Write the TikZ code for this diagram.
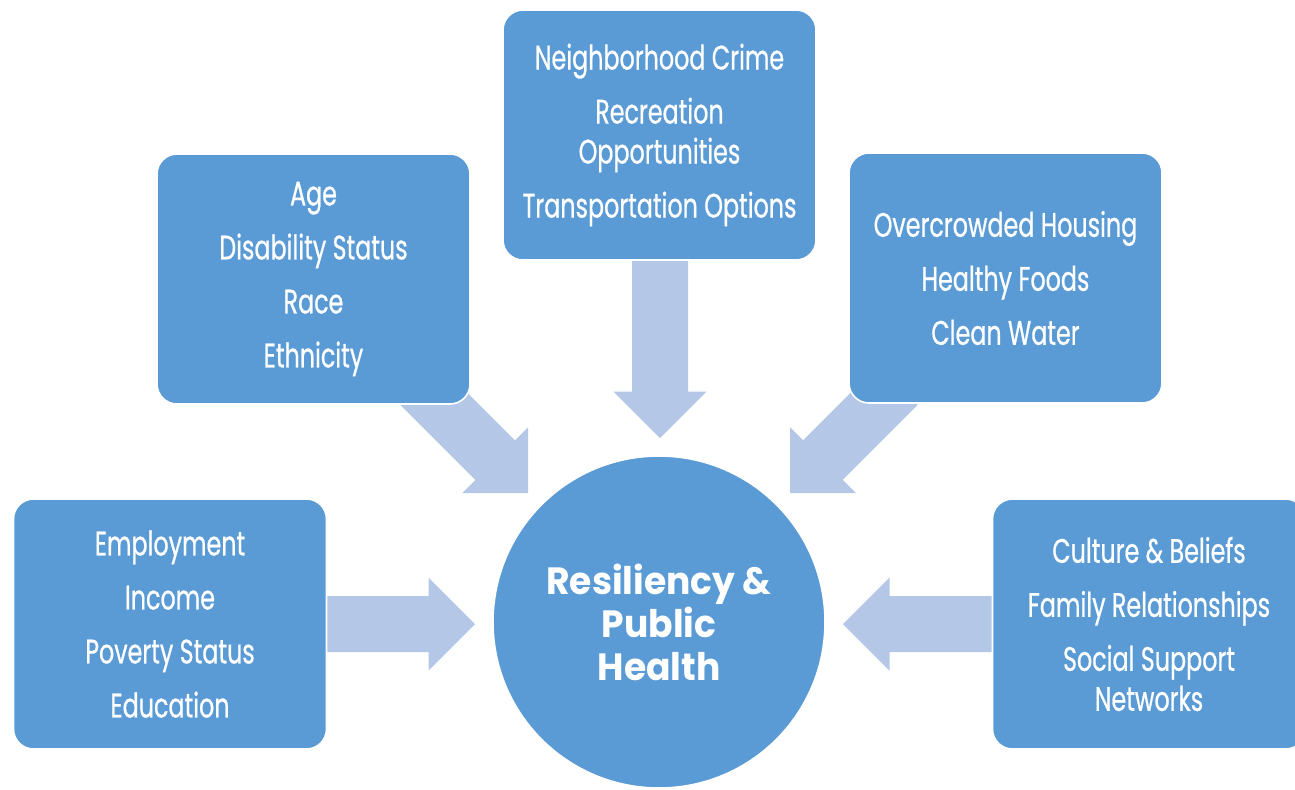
\documentclass[tikz,border=0pt]{standalone}
\usepackage{fontspec}
\newfontfamily\boxfont{Poppins}[FakeStretch=0.70,FakeBold=0.6]
\newfontfamily\hubfont{Poppins}[FakeStretch=0.95]
\usetikzlibrary{calc,backgrounds}
\definecolor{boxblue}{HTML}{5B9BD5}
\definecolor{arrowblue}{HTML}{B4C7E7}
\newcommand\blockarrow[2]{%
  \path ($(#2)!23.25pt!(#1)$) coordinate (hb);
  \fill[arrowfill] ($(#1)!14pt!90:(#2)$) -- ($(hb)!14pt!-90:(#1)$) -- ($(hb)!23.25pt!-90:(#1)$)
    -- (#2) -- ($(hb)!23.25pt!90:(#1)$) -- ($(hb)!14pt!90:(#1)$) -- ($(#1)!14pt!-90:(#2)$) -- cycle;}
\begin{document}
\begin{tikzpicture}[x=0.5pt,y=-0.5pt,
  factorbox/.style={rectangle, rounded corners=10pt, fill=boxblue, draw=white, line width=0.8pt,
    minimum width=156.5pt, minimum height=125pt, inner sep=0pt, text=white, align=center,
    font=\boxfont\fontsize{17}{20}\selectfont},
  hub/.style={circle, fill=boxblue, draw=white, line width=0.8pt, minimum size=166pt, inner sep=0pt,
    text=white, align=center, font=\hubfont\bfseries\fontsize{19}{21.5}\selectfont},
  arrowfill/.style={fill=arrowblue}]
\useasboundingbox (0,0) rectangle (1295,789);
\fill[white] (0,0) rectangle (1295,789);

% arrow end points
\coordinate (tT) at (660,250);   \coordinate (pT) at (660,438);
\coordinate (tA) at (420,385);   \coordinate (pA) at (528,493);
\coordinate (tR) at (898,385);   \coordinate (pR) at (790,493);
\coordinate (tL) at (320,624);   \coordinate (pL) at (475,624);
\coordinate (tB) at (1000,624);  \coordinate (pB) at (843,624);

\blockarrow{tT}{pT}
\blockarrow{tA}{pA}
\blockarrow{tR}{pR}
\blockarrow{tL}{pL}
\blockarrow{tB}{pB}

\node[factorbox] (age) at (313.5,279) {Age\\[7pt]Disability Status\\[7pt]Race\\[7pt]Ethnicity};
\node[factorbox] (top) at (659.5,135) {Neighborhood Crime\\[7pt]Recreation\\Opportunities\\[7pt]Transportation Options};
\node[factorbox] (env) at (1005.5,278) {Overcrowded Housing\\[7pt]Healthy Foods\\[7pt]Clean Water};
\node[factorbox] (econ) at (170,624) {Employment\\[7pt]Income\\[7pt]Poverty Status\\[7pt]Education};
\node[factorbox] (soc) at (1149,624) {Culture \& Beliefs\\[7pt]Family Relationships\\[7pt]Social Support\\Networks};
\node[hub] (hub) at (659,622) {Resiliency \&\\Public\\Health};
\end{tikzpicture}
\end{document}
